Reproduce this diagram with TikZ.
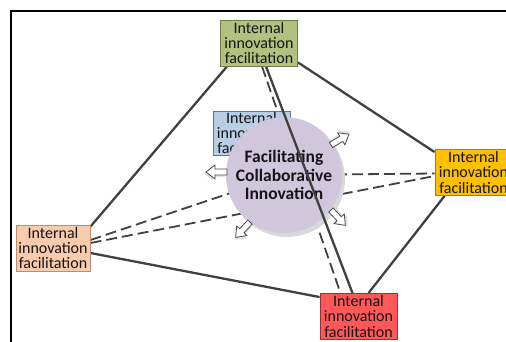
\documentclass[tikz,border=0pt]{standalone}
\usepackage{fontspec}
\setmainfont{Carlito}
\usetikzlibrary{calc}
\pgfdeclarelayer{front}
\pgfsetlayers{main,front}
\definecolor{greenfill}{RGB}{178,193,126}
\definecolor{greenline}{RGB}{110,125,75}
\definecolor{orangefill}{RGB}{255,192,0}
\definecolor{orangeline}{RGB}{170,125,0}
\definecolor{peachfill}{RGB}{248,203,173}
\definecolor{peachline}{RGB}{190,140,110}
\definecolor{redfill}{RGB}{255,88,88}
\definecolor{redline}{RGB}{150,50,50}
\definecolor{bluefill}{RGB}{184,206,228}
\definecolor{blueline}{RGB}{90,120,160}
\definecolor{lavender}{RGB}{208,199,221}
\definecolor{conn}{RGB}{64,64,64}
\definecolor{txt}{RGB}{20,20,20}
\tikzset{
  facbox/.style={draw, line width=0.9pt, minimum width=77pt, minimum height=46pt,
    inner sep=0pt, align=center, text=txt, font=\fontsize{16}{15.2}\selectfont},
  solidconn/.style={draw=conn, line width=2.3pt},
  dashconn/.style={draw=conn, line width=1.8pt, dash pattern=on 11pt off 5pt},
  pics/hollowarrow/.style={code={
    \fill[black!12] (2,2) -- (14,2) -- (14,6) -- (23,-1.5) -- (14,-9) -- (14,-5) -- (2,-5) -- cycle;
    \draw[fill=white, draw=black!70, line width=0.8pt] (0,-3) -- (12,-3) -- (12,-7) -- (21,0) -- (12,7) -- (12,3) -- (0,3) -- cycle;
  }}
}
\begin{document}
\begin{tikzpicture}[x=1pt,y=-1pt]
\useasboundingbox (0,0) rectangle (506,342);
% frame
\draw[black, line width=1.6pt] (11,342) -- (11,11) -- (507,11);
% outer boxes (front layer)
\begin{pgfonlayer}{front}
\node[facbox, fill=greenfill, draw=greenline] (g) at (259,43) {Internal\\innovation\\facilitation};
\node[facbox, fill=orangefill, draw=orangeline] (o) at (473.5,172.5) {Internal\\innovation\\facilitation};
\node[facbox, fill=peachfill, draw=peachline, minimum width=74pt] (p) at (53,248) {Internal\\innovation\\facilitation};
\node[facbox, fill=redfill, draw=redline] (r) at (358.5,316.5) {Internal\\innovation\\facilitation};
\end{pgfonlayer}
\coordinate (cc) at (284,175);
% dashed connectors
\draw[dashconn] ($(g.south)+(3,0)$) -- ($(r.north)+(-18,0)$);
\draw[dashconn] ($(p.east)+(0,-5)$) -- ($(o.west)+(0,3.5)$);
\draw[dashconn] ($(p.east)+(0,-8)$) -- (cc) -- ($(o.west)+(0,1)$);
% blue box
\node[facbox, fill=bluefill, draw=blueline, minimum height=44pt] (b) at (251.5,133) {Internal\\innovation\\facilitation};
% circle
\fill[black!15] (287,179) circle (58);
\node[circle, minimum size=116pt, inner sep=0pt, fill=lavender, align=center, text=txt,
  font=\bfseries\fontsize{17.5}{18.5}\selectfont] (c) at (cc) {Facilitating\\Collaborative\\Innovation};
% arrows
\pic[rotate=31] at (331,145) {hollowarrow};
\pic[rotate=180] at (227,172) {hollowarrow};
\pic[rotate=-47] at (331,210) {hollowarrow};
\pic[rotate=-133] at (250,222) {hollowarrow};
% solid connectors
\draw[solidconn] ($(g.south west)+(7,0)$) -- ($(p.north east)+(0,2)$);
\draw[solidconn] ($(g.south east)+(0,-4)$) -- ($(o.north west)+(0,3)$);
\draw[solidconn] ($(p.east)+(0,5)$) -- ($(r.north west)+(0,4)$);
\draw[solidconn] ($(o.south west)+(10,0)$) -- ($(r.north)+(10,0)$);
\draw[solidconn] ($(g.south)+(7,0)$) -- ($(r.north)+(-6,0)$);
\end{tikzpicture}
\end{document}
